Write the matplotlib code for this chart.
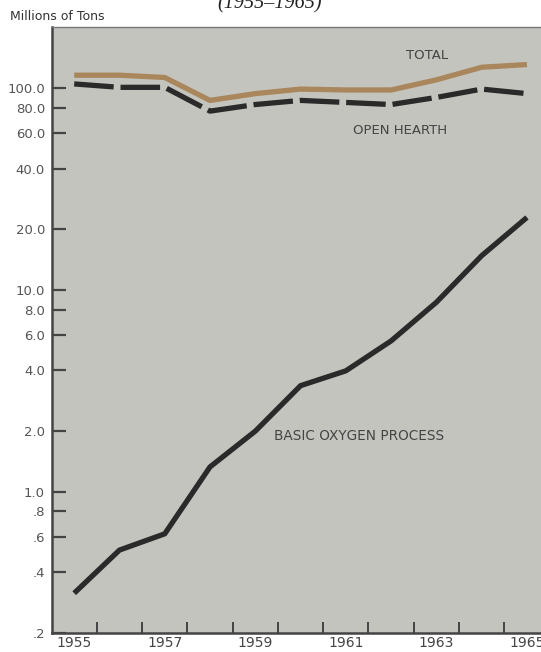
import matplotlib.pyplot as plt
import numpy as np

# data (millions of tons)
years = [1955, 1956, 1957, 1958, 1959, 1960, 1961, 1962, 1963, 1964, 1965]
total = [116, 116, 113, 87, 94, 99, 98, 98, 110, 127, 131]
open_hearth = [105, 101, 101, 77, 83, 87, 85, 83, 90, 99, 94]
basic_oxygen = [0.315, 0.515, 0.62, 1.33, 2.0, 3.36, 3.98, 5.6, 8.7, 14.8, 22.9]

ytick_vals = [100, 80, 60, 40, 20, 10, 8, 6, 4, 2, 1, 0.8, 0.6, 0.4, 0.2]
ytick_labels = ['100.0', '80.0', '60.0', '40.0', '20.0', '10.0', '8.0', '6.0',
                '4.0', '2.0', '1.0', '.8', '.6', '.4', '.2']
xlabel_years = [1955, 1957, 1959, 1961, 1963, 1965]

bg = '#c4c4bf'
ink = '#2a2a2a'
brown = '#a9865b'

fig = plt.figure(figsize=(5.41, 6.52), dpi=100)
ax = fig.add_axes([52 / 541, 1 - 633 / 652, 1 - 52 / 541, (633 - 27) / 652])
ax.set_facecolor(bg)

ax.plot(years, total, color=brown, lw=3.8, solid_capstyle='butt')
ax.plot(years, open_hearth, color=ink, lw=3.8, dashes=(7.5, 1.3))
ax.plot(years, basic_oxygen, color=ink, lw=3.8, solid_capstyle='butt')

ax.set_yscale('log')
ax.set_ylim(0.2, 201)
ax.set_xlim(1954.51, 1965.31)

ax.set_yticks(ytick_vals)
ax.set_yticklabels(ytick_labels)
ax.yaxis.set_minor_locator(plt.NullLocator())
ax.tick_params(axis='y', direction='in', length=10, width=1.6, color='#444444',
               labelsize=9.5, labelcolor='#555555', pad=5)

# ticks between years, labels on odd years
ax.set_xticks(np.arange(1955.5, 1965, 1.0))
ax.set_xticklabels([])
ax.set_xticks(xlabel_years, minor=True)
ax.set_xticklabels([str(y) for y in xlabel_years], minor=True)
ax.tick_params(axis='x', which='major', direction='in', length=8, width=1.4,
               color='#444444')
ax.tick_params(axis='x', which='minor', length=0, labelsize=10,
               labelcolor='#444444', pad=2.5)

for side in ['left', 'bottom']:
    ax.spines[side].set_linewidth(1.8)
    ax.spines[side].set_color('#444444')
ax.spines['top'].set_linewidth(1.0)
ax.spines['top'].set_color('#777777')
ax.spines['right'].set_visible(False)

ax.text(1962.8, 146, 'TOTAL', fontsize=9.5, color='#444444', ha='center', va='center')
ax.text(1962.2, 62, 'OPEN HEARTH', fontsize=9.5, color='#444444', ha='center', va='center')
ax.text(1961.3, 1.9, 'BASIC OXYGEN PROCESS', fontsize=9.8, color='#444444',
        ha='center', va='center')

fig.text(10 / 541, 1 - 17 / 652, 'Millions of Tons', fontsize=9, color='#333333',
         ha='left', va='center')
fig.text(270 / 541, 1 - 4 / 652, '(1955\u20131965)', fontsize=14.5, color='#222222',
         ha='center', va='center', family='Liberation Serif', style='italic')

fig.savefig('out.png', dpi=100, facecolor='white')
